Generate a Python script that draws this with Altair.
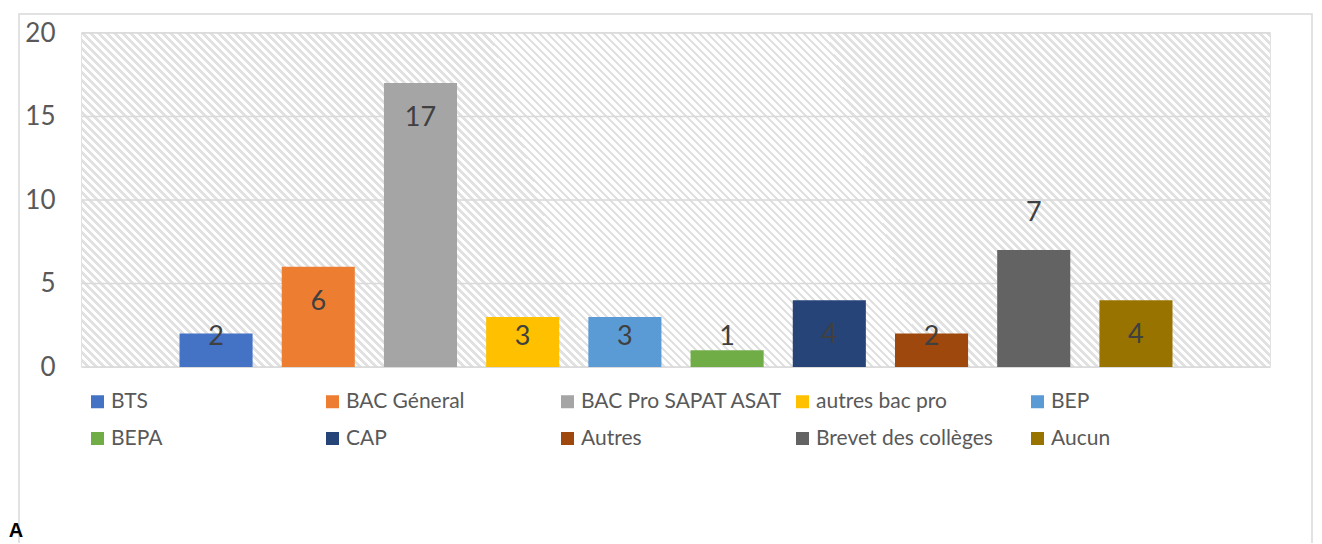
import altair as alt
import pandas as pd

categories = ["BTS", "BAC Géneral", "BAC Pro SAPAT ASAT", "autres bac pro", "BEP",
              "BEPA", "CAP", "Autres", "Brevet des collèges", "Aucun"]
values = [2, 6, 17, 3, 3, 1, 4, 2, 7, 4]
colors = ["#4472C4", "#ED7D31", "#A5A5A5", "#FFC000", "#5B9BD5",
          "#70AD47", "#264478", "#9E480E", "#636363", "#997300"]
y_ticks = [0, 5, 10, 15, 20]

W, H = 1188, 334
FONT = "Lato"

df = pd.DataFrame({"cat": categories, "val": values})
ticks_df = pd.DataFrame({"t": y_ticks})
one = pd.DataFrame({"k": [0]})

# diagonal hatch pattern for the plot background (style only)
periods = 190
stops = []
for i in range(periods):
    a = i / periods
    b = (i + 0.55) / periods
    c = (i + 1) / periods
    stops += [
        alt.GradientStop(offset=a, color="#ffffff"),
        alt.GradientStop(offset=b, color="#ffffff"),
        alt.GradientStop(offset=b, color="#e1e1e1"),
        alt.GradientStop(offset=c, color="#e1e1e1"),
    ]
hatch_fill = alt.LinearGradient(gradient="linear", stops=stops,
                                x1=0, y1=1, x2=1.187, y2=0.666)

yscale = alt.Scale(domain=[0, 20])
yaxis = alt.Axis(values=y_ticks, grid=False, ticks=False, domain=False,
                 labelFontSize=26, labelColor="#595959", labelPadding=27,
                 labelFont=FONT, title=None)

hatch = alt.Chart(one).mark_rect(fill=hatch_fill, strokeWidth=0).encode(
    x=alt.value(0), x2=alt.value(W), y=alt.value(0), y2=alt.value(H)
)

grid = alt.Chart(ticks_df).mark_rule(color="#d9d9d9", strokeWidth=1.5).encode(
    y=alt.Y("t:Q", scale=yscale, axis=yaxis)
)

xscale = alt.Scale(domain=categories, paddingInner=0.285, paddingOuter=0.954)

bars = alt.Chart(df).mark_bar().encode(
    x=alt.X("cat:N", scale=xscale, axis=None),
    y=alt.Y("val:Q", scale=yscale, axis=yaxis),
    color=alt.Color(
        "cat:N",
        scale=alt.Scale(domain=categories, range=colors),
        legend=alt.Legend(
            orient="none", legendX=5, legendY=358, columns=5, gridAlign="all",
            direction="horizontal",
            symbolType="square", symbolSize=169, symbolStrokeWidth=0,
            labelFontSize=21, labelFont=FONT, labelColor="#595959",
            columnPadding=9, rowPadding=15, labelOffset=3, title=None,
            labelLimit=400, padding=0,
        ),
    ),
)

labels = alt.Chart(df).transform_calculate(
    lab="datum.cat == 'Brevet des collèges' ? datum.val + 2.2 : max(datum.val - 2.1, 1.8)"
).mark_text(fontSize=27, font=FONT, color="#404040", baseline="middle").encode(
    x=alt.X("cat:N", scale=xscale, axis=None),
    y=alt.Y("lab:Q", scale=yscale, axis=yaxis),
    text="val:Q",
)

frame = alt.Chart(one).mark_rect(fillOpacity=0, stroke="#d9d9d9", strokeWidth=1.5).encode(
    x=alt.value(-63), x2=alt.value(1230), y=alt.value(-19), y2=alt.value(530)
)

letter = alt.Chart(one).mark_text(
    text="A", fontSize=20, fontWeight="bold", font="Liberation Sans",
    color="#000000", baseline="bottom", align="center"
).encode(x=alt.value(-66), y=alt.value(508))

chart = alt.layer(hatch, grid, bars, labels, frame, letter).properties(
    width=W, height=H,
    autosize=alt.AutoSizeParams(type="none"),
    padding={"left": 74, "top": 25, "right": 44, "bottom": 176},
    background="#ffffff",
).configure_view(stroke="#d9d9d9", strokeWidth=1.5)

chart.save("out.html", embed_options={"renderer": "svg", "actions": False})
